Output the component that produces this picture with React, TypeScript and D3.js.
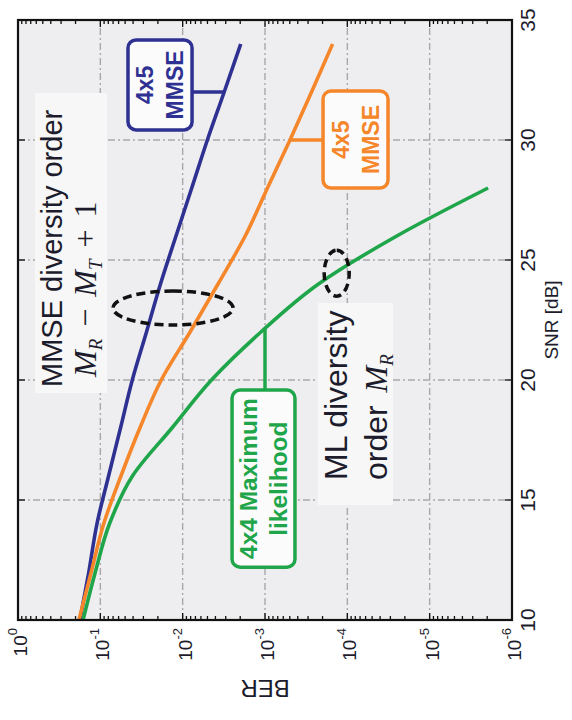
import React from 'react';
import * as d3 from 'd3';

// SNR sample points (dB) for the two MMSE receivers
const snrMmse = [10, 12, 14, 16, 18, 20, 22, 24, 26, 28, 30, 32, 34];
// 4x5 MMSE (navy curve)
const berMmseNavy = [0.177, 0.138, 0.110, 0.0794, 0.0569, 0.0409, 0.0275, 0.0186, 0.01205, 0.00776, 0.00501, 0.00313, 0.00197];
// 4x5 MMSE (orange curve)
const berMmseOrange = [0.182, 0.129, 0.0912, 0.0562, 0.0331, 0.0182, 0.00813, 0.00372, 0.00174, 0.000933, 0.000497, 0.000272, 0.000151];
// 4x4 maximum likelihood
const snrMl = [10, 12, 14, 16, 18, 20, 22, 24, 26, 28];
const berMl = [0.162, 0.115, 0.0776, 0.0407, 0.0135, 0.00447, 0.00112, 0.000224, 0.0000251, 0.00000195];

const snrTicks = [10, 15, 20, 25, 30, 35];
const berTicks = [1, 1e-1, 1e-2, 1e-3, 1e-4, 1e-5, 1e-6];
const berTickExp = ['0', '-1', '-2', '-3', '-4', '-5', '-6'];

const NAVY = '#2e3192';
const ORANGE = '#f5862a';
const GREEN = '#1fa64b';
const BG = '#eeedef';
const GRID = '#a9a9ab';
const INK = '#1c1c2c';
const SERIF = "'Liberation Serif', 'DejaVu Serif', serif";

// chart drawn in its own frame, then turned a quarter turn counter-clockwise
const W = 600;
const H = 494;
const ORIGIN_X = 18;
const ORIGIN_Y = 620;

const x = d3.scaleLinear().domain([10, 35]).range([0, W]);
const y = d3.scaleLog().domain([1, 1e-6]).range([0, H]);

const minorBer: number[] = [];
for (let k = 1; k <= 6; k++) {
  for (let m = 2; m <= 9; m++) minorBer.push(m * Math.pow(10, -k));
}

const line = d3
  .line<[number, number]>()
  .x((d) => x(d[0]))
  .y((d) => y(d[1]))
  .curve(d3.curveMonotoneX);

const pts = (s: number[], b: number[]) => s.map((v, i) => [v, b[i]] as [number, number]);

// SNR where a curve reaches a given BER (log-linear interpolation)
function snrAt(s: number[], b: number[], target: number) {
  for (let i = 0; i < s.length - 1; i++) {
    if (b[i] >= target && b[i + 1] <= target) {
      const t = (Math.log10(b[i]) - Math.log10(target)) / (Math.log10(b[i]) - Math.log10(b[i + 1]));
      return s[i] + t * (s[i + 1] - s[i]);
    }
  }
  return s[s.length - 1];
}
function berAt(s: number[], b: number[], snr: number) {
  return b[s.indexOf(snr)];
}
const dec = (d: number) => Math.pow(10, -d);

type Box = { s0: number; s1: number; d0: number; d1: number; color: string; lines: string[]; size: number };
const navyBox: Box = { s0: 30.42, s1: 34.17, d0: 1.336, d1: 2.114, color: NAVY, lines: ['4x5', 'MMSE'], size: 23 };
const orangeBox: Box = { s0: 28.0, s1: 32.04, d0: 3.705, d1: 4.494, color: ORANGE, lines: ['4x5', 'MMSE'], size: 23 };
const greenBox: Box = { s0: 12.2, s1: 19.58, d0: 2.6, d1: 3.364, color: GREEN, lines: ['4x4 Maximum', 'likelihood'], size: 24.5 };

function LabelBox({ b }: { b: Box }) {
  const x0 = x(b.s0);
  const x1 = x(b.s1);
  const y0 = y(dec(b.d0));
  const y1 = y(dec(b.d1));
  const cx = (x0 + x1) / 2;
  const cy = (y0 + y1) / 2;
  return (
    <g>
      <rect x={x0} y={y0} width={x1 - x0} height={y1 - y0} rx={8} fill="#fbfbfc" stroke={b.color} strokeWidth={3.5} />
      {b.lines.map((t, i) => (
        <text key={i} x={cx} y={cy - 7 + i * 30} textAnchor="middle" fontWeight="bold" fontSize={b.size} fill={b.color}>
          {t}
        </text>
      ))}
    </g>
  );
}

export default function App() {
  const greenLinkSnr = snrAt(snrMl, berMl, 1e-3);
  return (
    <svg
      width={572}
      height={720}
      style={{ position: 'absolute', left: 0, top: 0, background: '#fff' }}
      fontFamily="'Liberation Sans', Arial, Helvetica, sans-serif"
    >
      <g transform={`translate(${ORIGIN_X},${ORIGIN_Y}) rotate(-90)`}>
        <rect x={0} y={0} width={W} height={H} fill={BG} />
        {/* grid */}
        <g stroke={GRID} strokeWidth={1.4} strokeDasharray="7 3 2 3">
          {snrTicks.slice(1, -1).map((v) => (
            <line key={'gx' + v} x1={x(v)} x2={x(v)} y1={0} y2={H} />
          ))}
          {berTicks.slice(1, -1).map((v) => (
            <line key={'gy' + v} x1={0} x2={W} y1={y(v)} y2={y(v)} />
          ))}
        </g>

        {/* text panels */}
        <rect x={227} y={17} width={300} height={72} fill="#f7f7f7" />
        <rect x={115} y={300} width={202} height={75} fill="#f7f7f7" />
        <text x={233} y={44} fontSize={29} fill={INK}>MMSE diversity order</text>
        <text x={243} y={78} fontSize={32} fill={INK} fontFamily={SERIF}>
          <tspan fontStyle="italic">M</tspan>
          <tspan fontStyle="italic" fontSize={19} dy={6}>R</tspan>
          <tspan dy={-6} dx={12}>{'\u2212'}</tspan>
          <tspan dx={12} fontStyle="italic">M</tspan>
          <tspan fontStyle="italic" fontSize={19} dy={6}>T</tspan>
          <tspan dy={-6} dx={12}>+</tspan>
          <tspan dx={12}>1</tspan>
        </text>
        <text x={140} y={329} fontSize={32} fill={INK}>ML diversity</text>
        <text x={140} y={369} fontSize={32} fill={INK}>
          {'order '}
          <tspan fontStyle="italic" fontFamily={SERIF} dx={4}>M</tspan>
          <tspan fontStyle="italic" fontFamily={SERIF} fontSize={19} dy={6}>R</tspan>
        </text>

        {/* curves */}
        <path d={line(pts(snrMmse, berMmseNavy)) || ''} fill="none" stroke={NAVY} strokeWidth={3.6} strokeLinejoin="round" />
        <path d={line(pts(snrMmse, berMmseOrange)) || ''} fill="none" stroke={ORANGE} strokeWidth={3.6} strokeLinejoin="round" />
        <path d={line(pts(snrMl, berMl)) || ''} fill="none" stroke={GREEN} strokeWidth={3.6} strokeLinejoin="round" />

        {/* diversity markers */}
        <ellipse cx={x(23.0)} cy={y(dec(1.883))} rx={17} ry={60} fill="none" stroke="#111" strokeWidth={3.5} strokeDasharray="9 5" />
        <ellipse cx={x(24.45)} cy={y(dec(3.871))} rx={23} ry={12.5} fill="none" stroke="#111" strokeWidth={3.5} strokeDasharray="8 5" />

        {/* label connectors */}
        <line x1={x(32)} x2={x(32)} y1={y(dec(navyBox.d1))} y2={y(berAt(snrMmse, berMmseNavy, 32))} stroke={NAVY} strokeWidth={3.5} />
        <line x1={x(30)} x2={x(30)} y1={y(berAt(snrMmse, berMmseOrange, 30))} y2={y(dec(orangeBox.d0))} stroke={ORANGE} strokeWidth={3.5} />
        <line x1={x(greenBox.s1)} x2={x(greenLinkSnr)} y1={y(1e-3)} y2={y(1e-3)} stroke={GREEN} strokeWidth={3.5} />
        <LabelBox b={navyBox} />
        <LabelBox b={orangeBox} />
        <LabelBox b={greenBox} />

        {/* frame and ticks */}
        <g stroke="#111" strokeWidth={1.3}>
          {snrTicks.map((v) => (
            <g key={'tx' + v}>
              <line x1={x(v)} x2={x(v)} y1={H} y2={H - 7} />
              <line x1={x(v)} x2={x(v)} y1={0} y2={7} />
            </g>
          ))}
          {berTicks.map((v) => (
            <g key={'ty' + v}>
              <line x1={0} x2={7} y1={y(v)} y2={y(v)} />
              <line x1={W} x2={W - 7} y1={y(v)} y2={y(v)} />
            </g>
          ))}
          {minorBer.map((v) => (
            <g key={'tm' + v}>
              <line x1={0} x2={4} y1={y(v)} y2={y(v)} />
              <line x1={W} x2={W - 4} y1={y(v)} y2={y(v)} />
            </g>
          ))}
        </g>
        <rect x={0} y={0} width={W} height={H} fill="none" stroke="#111" strokeWidth={2.2} />

        {/* tick labels */}
        {snrTicks.map((v) => (
          <text key={'lx' + v} x={x(v)} y={H + 23} textAnchor="middle" fontSize={21} fill={INK}>
            {v}
          </text>
        ))}
        {berTicks.map((v, i) => (
          <text key={'ly' + v} x={-8} y={y(v) + 9} textAnchor="end" fontSize={19} fill={INK}>
            10
            <tspan fontSize={13} dy={-10}>{berTickExp[i]}</tspan>
          </text>
        ))}
        <text x={W / 2} y={H + 46} textAnchor="middle" fontSize={19} fill={INK}>SNR [dB]</text>
        <text transform={`translate(-60,${H / 2}) rotate(-90)`} textAnchor="middle" fontSize={24} fill={INK}>BER</text>
      </g>
    </svg>
  );
}
